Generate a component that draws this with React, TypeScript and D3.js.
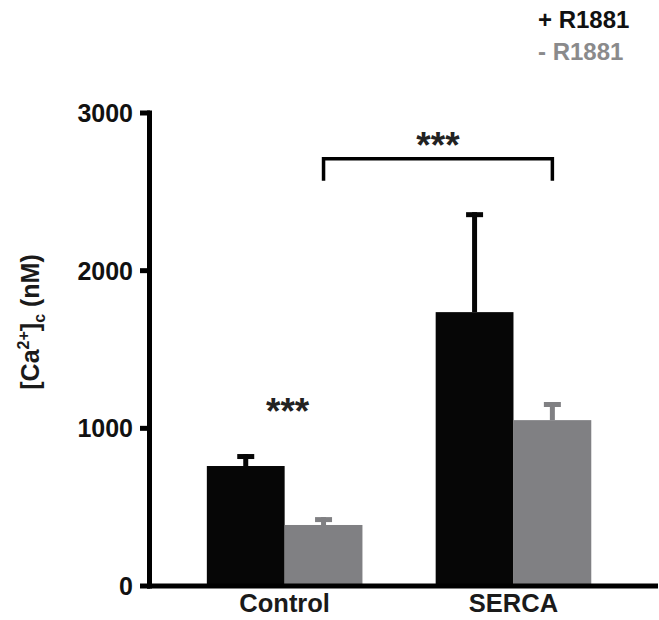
import React from "react";
import * as d3 from "d3";

const groups = ["Control", "SERCA"];
const series = ["+ R1881", "- R1881"];
const plusValues = [761, 1737];
const plusErrors = [76, 634];
const minusValues = [387, 1052];
const minusErrors = [50, 115];
const yTicks = [0, 1000, 2000, 3000];
const seriesColors = ["#060606", "#808083"];
const legendColors = ["#111111", "#8a8a8b"];

const W = 659;
const H = 620;
const FONT = "'Liberation Sans', Arial, Helvetica, sans-serif";

export default function App() {
  const y = d3.scaleLinear().domain([0, 3000]).range([586, 113]);
  const x = d3
    .scaleBand<string>()
    .domain(groups)
    .range([150, 658])
    .paddingInner(0.32)
    .paddingOuter(0.27)
    .align(0.46);
  const xs = d3
    .scaleBand<string>()
    .domain(series)
    .range([0, x.bandwidth()])
    .padding(0);

  const vals = [plusValues, minusValues];
  const errs = [plusErrors, minusErrors];

  const bars: any[] = [];
  groups.forEach((g, gi) => {
    series.forEach((s, si) => {
      const v = vals[si][gi];
      const e = errs[si][gi];
      const x0 = (x(g) as number) + (xs(s) as number);
      const bw = xs.bandwidth();
      const cx = x0 + bw / 2;
      const col = seriesColors[si];
      bars.push(
        <g key={g + s}>
          <line x1={cx} x2={cx} y1={y(v)} y2={y(v + e)} stroke={col} strokeWidth={5} />
          <line x1={cx - 8.5} x2={cx + 8.5} y1={y(v + e) + 2.5} y2={y(v + e) + 2.5} stroke={col} strokeWidth={5} />
          <rect x={x0} y={y(v)} width={bw} height={y(0) - y(v)} fill={col} />
        </g>
      );
    });
  });

  const bx1 = (x("Control") as number) + (xs("- R1881") as number) + xs.bandwidth() / 2;
  const bx2 = (x("SERCA") as number) + (xs("- R1881") as number) + xs.bandwidth() / 2;
  const byTop = y(2710);
  const byBot = y(2570);
  const ctrlCx = (x("Control") as number) + x.bandwidth() / 2;

  return (
    <svg
      width={W}
      height={H}
      style={{ position: "absolute", left: 0, top: 0, background: "#fff" }}
      fontFamily={FONT}
      fontWeight="bold"
    >
      {bars}
      <line x1={149.5} x2={149.5} y1={110.5} y2={588.5} stroke="#000" strokeWidth={5} />
      <line x1={147} x2={658} y1={586} y2={586} stroke="#000" strokeWidth={5} />
      {yTicks.map((t) => (
        <g key={t}>
          <line x1={140} x2={150} y1={y(t)} y2={y(t)} stroke="#000" strokeWidth={5} />
          <text x={133} y={y(t)} dy="0.36em" textAnchor="end" fontSize={25} fill="#111">
            {t}
          </text>
        </g>
      ))}
      {groups.map((g) => (
        <text
          key={g}
          x={(x(g) as number) + x.bandwidth() / 2}
          y={612}
          textAnchor="middle"
          fontSize={25.5}
          fill="#1a1a1a"
        >
          {g}
        </text>
      ))}
      <text
        transform={`translate(39,322) rotate(-90)`}
        textAnchor="middle"
        fontSize={25}
        fill="#1a1a1a"
      >
        <tspan>[Ca</tspan>
        <tspan fontSize={16} dy={-10}>2+</tspan>
        <tspan dy={10}>]</tspan>
        <tspan fontSize={16} dy={6}>c</tspan>
        <tspan dy={-6}> (nM)</tspan>
      </text>
      <path
        d={`M${bx1},${byBot} V${byTop} H${bx2} V${byBot}`}
        fill="none"
        stroke="#000"
        strokeWidth={3.5}
      />
      <text x={(bx1 + bx2) / 2} y={158} textAnchor="middle" fontSize={37} fill="#222">
        ***
      </text>
      <text x={ctrlCx + 3} y={424} textAnchor="middle" fontSize={37} fill="#222">
        ***
      </text>
      {series.map((s, i) => (
        <text key={s} x={538} y={28 + i * 32} fontSize={24} fill={legendColors[i]}>
          {s}
        </text>
      ))}
    </svg>
  );
}
